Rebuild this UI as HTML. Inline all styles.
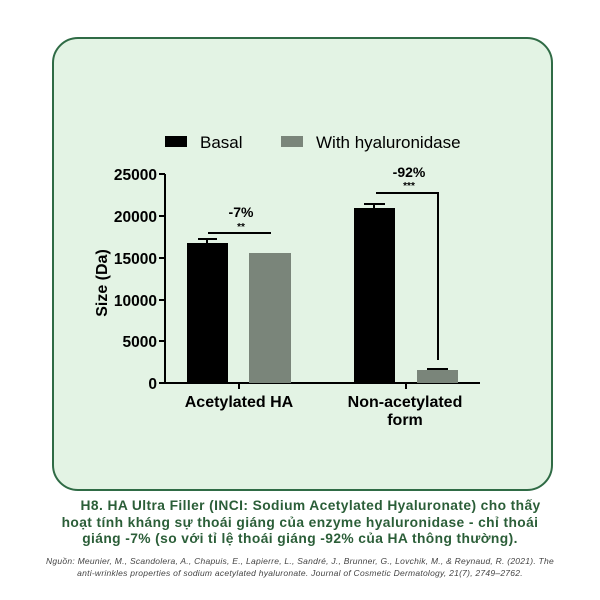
<!DOCTYPE html>
<html><head><meta charset="utf-8"><style>
body{margin:0;width:600px;height:600px;background:#fff;overflow:hidden;font-family:"Liberation Sans",sans-serif}
.card{position:absolute;left:52px;top:37px;width:497px;height:450px;border:2px solid #2f6b45;border-radius:26px;background:#e3f3e4;box-sizing:content-box}
.cap{position:absolute;left:0;width:600px;text-align:center;color:#2b5e38;font-weight:bold;font-size:13.8px;line-height:16.5px;letter-spacing:0.4px}
.cit{position:absolute;left:0;width:600px;text-align:center;color:#444;font-style:italic;font-size:8.5px;line-height:11.5px;letter-spacing:0.25px}
</style></head><body>
<div class="card"></div>
<svg width="600" height="600" style="position:absolute;left:0;top:0" font-family="Liberation Sans, sans-serif">
<rect x="165" y="136" width="22" height="11" fill="#000"/>
<text x="200" y="148" font-size="17">Basal</text>
<rect x="281" y="136" width="22" height="11" fill="#7a857a"/>
<text x="316" y="148" font-size="17">With hyaluronidase</text>
<g stroke="#000" stroke-width="2" fill="none">
<path d="M165,174V383H480"/>
<path d="M159,174H165M159,216H165M159,258H165M159,300H165M159,341H165M159,383H165"/>
<path d="M239,383V389M406,383V389"/>
</g>
<g font-size="15.5" font-weight="bold" text-anchor="end">
<text x="157" y="180">25000</text><text x="157" y="222">20000</text><text x="157" y="264">15000</text>
<text x="157" y="306">10000</text><text x="157" y="347">5000</text><text x="157" y="389">0</text>
</g>
<text transform="translate(107,283) rotate(-90)" font-size="16" font-weight="bold" text-anchor="middle">Size (Da)</text>
<rect x="187" y="243" width="41" height="140" fill="#000"/>
<rect x="249" y="253" width="42" height="130" fill="#7a857a"/>
<rect x="354" y="208" width="41" height="175" fill="#000"/>
<rect x="417" y="370" width="41" height="13" fill="#7a857a"/>
<g stroke="#000" stroke-width="2" fill="none">
<path d="M207,243V239M198,239H217"/>
<path d="M374,208V204M364,204H385"/>
<path d="M427,369H448"/>
<path d="M208,233H271"/>
<path d="M376,193H438V360"/>
</g>
<g font-weight="bold" text-anchor="middle">
<text x="241" y="217" font-size="14">-7%</text>
<text x="241" y="230" font-size="10">**</text>
<text x="409" y="177" font-size="14">-92%</text>
<text x="409" y="189" font-size="10">***</text>
<text x="239" y="407" font-size="16">Acetylated HA</text>
<text x="405" y="407" font-size="16">Non-acetylated</text>
<text x="405" y="425" font-size="16">form</text>
</g>
</svg>
<div class="cap" style="top:498px">&nbsp;&nbsp;&nbsp;&nbsp;&nbsp;H8. HA Ultra Filler (INCI: Sodium Acetylated Hyaluronate) cho thấy<br>hoạt tính kháng sự thoái giáng của enzyme hyaluronidase - chỉ thoái<br>giáng -7% (so với tỉ lệ thoái giáng -92% của HA thông thường).</div>
<div class="cit" style="top:556px">Nguồn: Meunier, M., Scandolera, A., Chapuis, E., Lapierre, L., Sandré, J., Brunner, G., Lovchik, M., &amp; Reynaud, R. (2021). The<br>anti-wrinkles properties of sodium acetylated hyaluronate. Journal of Cosmetic Dermatology, 21(7), 2749–2762.</div>
</body></html>
